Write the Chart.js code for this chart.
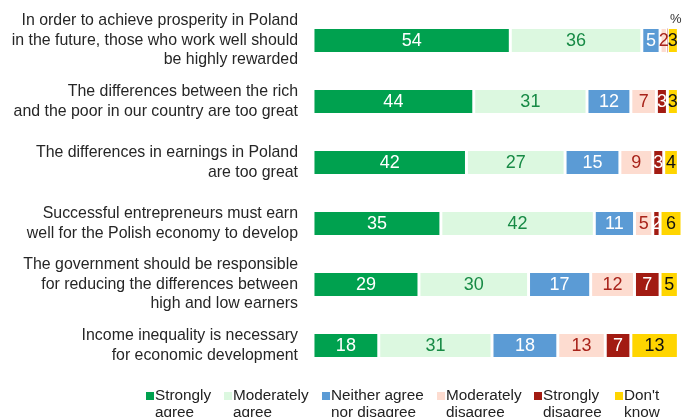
<!DOCTYPE html>
<html>
<head>
<meta charset="utf-8">
<script src="https://cdn.jsdelivr.net/npm/chart.js"></script>
<style>
	html, body { margin: 0; padding: 0; background: #fff; }
	#wrap { position: relative; width: 684px; height: 417px; overflow: hidden; }
	#pct { position: absolute; left: 670px; top: 11px; font: 13px "Liberation Sans", Arial, sans-serif; color: #333; }
	.leg { position: absolute; top: 386px; font: 15.3px/17px "Liberation Sans", Arial, sans-serif; color: #222; white-space: nowrap; }
	.leg i { position: absolute; left: -9px; top: 6px; width: 8px; height: 8px; }
</style>
</head>
<body>
<div id="wrap">
	<canvas id="myChart" width="684" height="417"></canvas>
	<div id="pct">%</div>
	<div id="legend"></div>
</div>
<script>
// Statements (y axis), each one split over its lines
var statements = [
	["In order to achieve prosperity in Poland", "in the future, those who work well should", "be highly rewarded"],
	["The differences between the rich", "and the poor in our country are too great"],
	["The differences in earnings in Poland", "are too great"],
	["Successful entrepreneurs must earn", "well for the Polish economy to develop"],
	["The government should be responsible", "for reducing the differences between", "high and low earners"],
	["Income inequality is necessary", "for economic development"]
];

// Answer shares, %
var stronglyAgree = [54, 44, 42, 35, 29, 18];
var moderatelyAgree = [36, 31, 27, 42, 30, 31];
var neither = [5, 12, 15, 11, 17, 18];
var moderatelyDisagree = [2, 7, 9, 5, 12, 13];
var stronglyDisagree = [0, 3, 3, 2, 7, 7];
var dontKnow = [3, 3, 4, 6, 5, 13];

var answers = [
	{ name: ["Strongly", "agree"], data: stronglyAgree, color: "#00a14f", text: "#ffffff", x: 155 },
	{ name: ["Moderately", "agree"], data: moderatelyAgree, color: "#dcf8e0", text: "#178a45", x: 233 },
	{ name: ["Neither agree", "nor disagree"], data: neither, color: "#5b9bd5", text: "#ffffff", x: 331 },
	{ name: ["Moderately", "disagree"], data: moderatelyDisagree, color: "#fddcd0", text: "#a8231a", x: 446 },
	{ name: ["Strongly", "disagree"], data: stronglyDisagree, color: "#a21b12", text: "#ffffff", x: 543 },
	{ name: ["Don't", "know"], data: dontKnow, color: "#ffd500", text: "#111111", x: 624 }
];

// value labels in the middle of each segment
var segmentLabels = {
	id: "segmentLabels",
	afterDatasetsDraw: function (chart) {
		var ctx = chart.ctx;
		ctx.save();
		ctx.font = "18px 'Liberation Sans', Arial, sans-serif";
		ctx.textAlign = "center";
		ctx.textBaseline = "middle";
		chart.data.datasets.forEach(function (ds, i) {
			var meta = chart.getDatasetMeta(i);
			meta.data.forEach(function (bar, j) {
				var v = ds.data[j];
				if (!v) return;
				var p = bar.getProps(["x", "y", "base"], true);
				ctx.fillStyle = answers[i].text;
				ctx.fillText(String(v), (p.x + p.base) / 2, p.y + 1);
			});
		});
		ctx.restore();
	}
};

var ctx = document.getElementById("myChart").getContext("2d");
var chart = new Chart(ctx, {
	type: "bar",
	data: {
		labels: statements,
		datasets: answers.map(function (a) {
			return {
				label: a.name.join(" "),
				data: a.data,
				backgroundColor: a.color,
				borderColor: "#ffffff",
				borderWidth: { left: 1.8, right: 1.8, top: 0, bottom: 0 },
				borderSkipped: false,
				barThickness: 23
			};
		})
	},
	options: {
		indexAxis: "y",
		responsive: false,
		animation: false,
		layout: { padding: { top: 10, bottom: 41, left: 0, right: 2 } },
		scales: {
			x: {
				stacked: true,
				min: 0,
				max: 101,
				display: false
			},
			y: {
				stacked: true,
				grid: { display: false },
				border: { display: false },
				afterFit: function (scale) {
					// fixed axis width, and no extra room for the multi-line end labels
					scale.width = 313;
					scale.paddingTop = 0;
					scale.paddingBottom = 0;
				},
				ticks: {
					autoSkip: false,
					color: "#262626",
					padding: 7,
					font: { family: "'Liberation Sans', Arial, sans-serif", size: 15.9, lineHeight: 1.22 }
				}
			}
		},
		plugins: {
			legend: { display: false },
			tooltip: { enabled: false }
		}
	},
	plugins: [segmentLabels]
});

// legend with two-line labels
var legend = document.getElementById("legend");
answers.forEach(function (a) {
	var item = document.createElement("div");
	item.className = "leg";
	item.style.left = a.x + "px";
	item.innerHTML = '<i style="background:' + a.color + '"></i>' + a.name[0] + "<br>" + a.name[1];
	legend.appendChild(item);
});
</script>
</body>
</html>
